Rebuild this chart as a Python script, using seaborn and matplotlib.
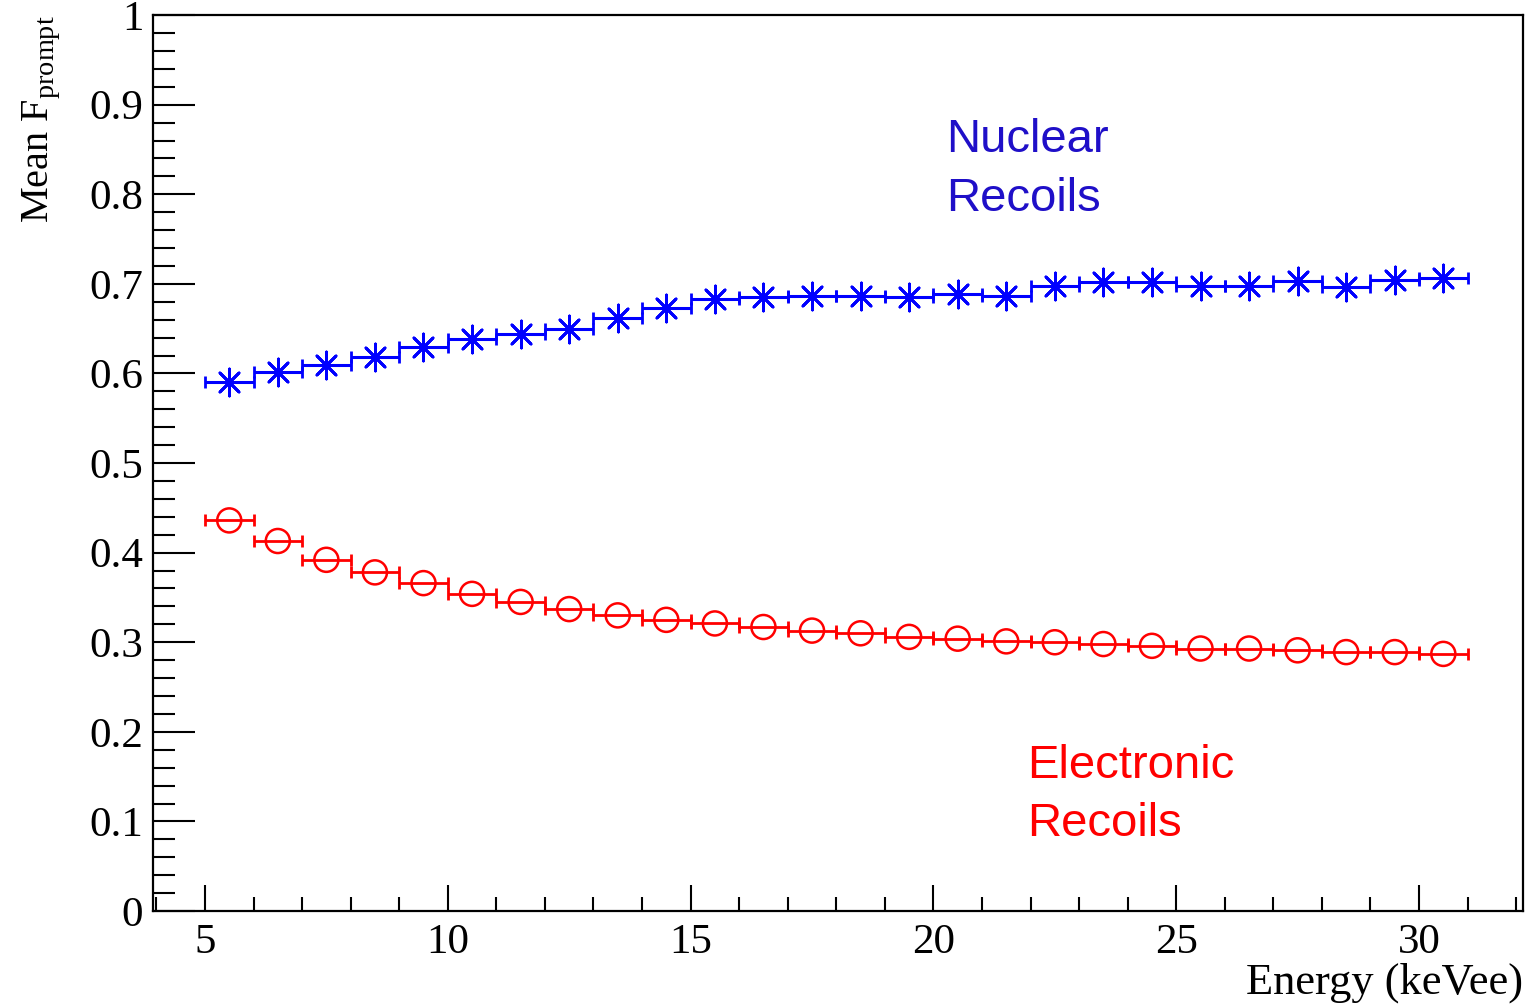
import matplotlib
matplotlib.use("Agg")
import matplotlib.pyplot as plt
import seaborn as sns
import pandas as pd
from matplotlib.ticker import MultipleLocator, FuncFormatter

# ---- data ----
energy_centers = [5.5, 6.5, 7.5, 8.5, 9.5, 10.5, 11.5, 12.5, 13.5, 14.5, 15.5, 16.5, 17.5,
                  18.5, 19.5, 20.5, 21.5, 22.5, 23.5, 24.5, 25.5, 26.5, 27.5, 28.5, 29.5, 30.5]
nuclear_fprompt = [0.590, 0.602, 0.609, 0.618, 0.630, 0.639, 0.644, 0.650, 0.662, 0.673,
                   0.683, 0.685, 0.687, 0.686, 0.685, 0.689, 0.686, 0.698, 0.702, 0.702,
                   0.698, 0.698, 0.703, 0.696, 0.704, 0.706]
electronic_fprompt = [0.436, 0.413, 0.392, 0.378, 0.366, 0.354, 0.345, 0.337, 0.330, 0.325,
                      0.321, 0.317, 0.313, 0.310, 0.306, 0.304, 0.301, 0.300, 0.298, 0.296,
                      0.293, 0.293, 0.291, 0.289, 0.289, 0.287]
bin_half_width = 0.5
x_ticks_major = [5, 10, 15, 20, 25, 30]
y_ticks_major = [0, 0.1, 0.2, 0.3, 0.4, 0.5, 0.6, 0.7, 0.8, 0.9, 1]

df_nr = pd.DataFrame({"energy": energy_centers, "fprompt": nuclear_fprompt})
df_er = pd.DataFrame({"energy": energy_centers, "fprompt": electronic_fprompt})

# ---- style ----
sns.set_theme(style="ticks")
plt.rcParams["font.family"] = ["Liberation Serif", "DejaVu Serif"]
plt.rcParams["mathtext.fontset"] = "custom"
plt.rcParams["mathtext.rm"] = "Liberation Serif"

fig = plt.figure(figsize=(15.3, 10.06), dpi=100)
ax = fig.add_axes([0.1, 0.0944, 0.8954, 0.8906])

blue = "#0000ff"
red = "#ff0000"

# error bars (bin widths)
ax.errorbar(df_nr["energy"], df_nr["fprompt"], xerr=bin_half_width,
            fmt="none", ecolor=blue, elinewidth=2.2, capsize=4, capthick=2, zorder=2)
ax.errorbar(df_er["energy"], df_er["fprompt"], xerr=bin_half_width,
            fmt="none", ecolor=red, elinewidth=2.0, capsize=4, capthick=2, zorder=2)

sns.scatterplot(data=df_nr, x="energy", y="fprompt", ax=ax, marker=(8, 2, 0), s=380,
                color=blue, edgecolor=blue, linewidth=2.0, zorder=3, legend=False)
sns.scatterplot(data=df_er, x="energy", y="fprompt", ax=ax, marker="o", s=300,
                facecolor="none", edgecolor=red, linewidth=1.8, zorder=3, legend=False)

# ---- axes ----
ax.set_xlim(3.93, 32.14)
ax.set_ylim(0, 1)
ax.set_xticks(x_ticks_major)
ax.set_yticks(y_ticks_major)
ax.xaxis.set_minor_locator(MultipleLocator(1))
ax.yaxis.set_minor_locator(MultipleLocator(0.02))
ax.yaxis.set_major_formatter(FuncFormatter(lambda v, p: f"{v:g}"))
ax.tick_params(axis="x", which="major", direction="in", length=19, width=1.5,
               labelsize=31, pad=9, color="black", labelcolor="black")
ax.tick_params(axis="x", which="minor", direction="in", length=10, width=1.5, color="black")
ax.tick_params(axis="y", which="major", direction="in", length=30, width=1.5,
               labelsize=31, pad=7, color="black", labelcolor="black")
ax.tick_params(axis="y", which="minor", direction="in", length=16, width=1.5, color="black")
for sp in ax.spines.values():
    sp.set_visible(True)
    sp.set_color("black")
    sp.set_linewidth(1.6)
ax.grid(False)
ax.set_facecolor("white")

ax.set_xlabel("Energy (keVee)", loc="right", fontsize=32, color="black")
ax.xaxis.set_label_coords(1.0, -0.058)
ax.set_ylabel(r"Mean F$_{\mathregular{prompt}}$", loc="top", fontsize=29, color="black")
ax.yaxis.set_label_coords(-0.066, 1.0)

# annotations
sans = ["Liberation Sans", "DejaVu Sans"]
ax.text(20.27, 0.847, "Nuclear", color="#1f0fc8", fontsize=34, family=sans, va="baseline")
ax.text(20.27, 0.781, "Recoils", color="#1f0fc8", fontsize=34, family=sans, va="baseline")
ax.text(21.93, 0.148, "Electronic", color=red, fontsize=34, family=sans, va="baseline")
ax.text(21.93, 0.0837, "Recoils", color=red, fontsize=34, family=sans, va="baseline")

fig.savefig("out.png", dpi=100, facecolor="white")
